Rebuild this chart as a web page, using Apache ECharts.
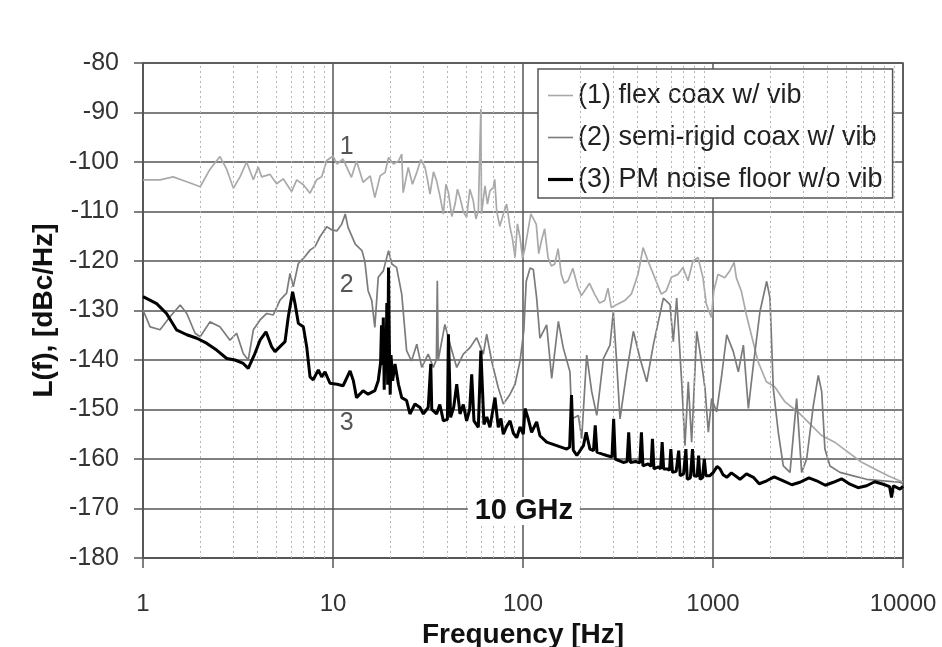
<!DOCTYPE html>
<html>
<head>
<meta charset="utf-8">
<script src="https://cdn.jsdelivr.net/npm/echarts@6/dist/echarts.min.js"></script>
<style>
  html, body { margin: 0; padding: 0; background: #ffffff; }
  #chart { width: 942px; height: 647px; }
</style>
</head>
<body>
<div id="chart"></div>
<script>
// Phase noise L(f) in dBc/Hz versus offset frequency in Hz.

// (1) flex coax with vibration
const flexFreq = [1.00, 1.23, 1.44, 1.70, 2.00, 2.25, 2.54, 2.76, 2.99, 3.24, 3.51, 3.81, 4.04, 4.21, 4.66, 5.05, 5.47, 6.06, 6.44, 6.98,
  7.57, 8.20, 8.72, 9.27, 10.0, 10.5, 11.3, 12.5, 13.3, 14.4, 15.7, 16.6, 17.7, 18.8, 19.6, 20.8, 22.1, 23.0, 23.4, 24.9,
  26.2, 27.6, 29.0, 30.5, 31.4, 32.4, 33.8, 35.1, 36.6, 38.1, 39.3, 40.5, 42.2, 43.9, 45.2, 46.6, 48.5, 50.5, 52.5, 54.7,
  56.5, 58.2, 59.5, 60.0, 60.5, 63.1, 65.0, 67.0, 69.8, 71.0, 72.7, 75.5, 78.8, 82.0, 85.5, 88.0, 90.8, 93.5, 96.5, 99.5,
  102.5, 110, 117.5, 121, 125, 130, 135.5, 141, 147, 153, 159, 165, 172.6, 183, 194.7, 203, 211, 224, 238, 253,
  269, 280, 291.6, 316, 343, 371.5, 403, 428.5, 455, 493, 534.6, 568, 603.6, 654.6, 695, 738.6, 784.6, 833.6, 885, 922,
  980, 1010, 1062, 1153, 1225, 1291, 1327, 1410, 1497, 1591, 1726, 1909, 2113, 2384, 2800, 3162, 3716, 4367, 5136, 6035,
  7098, 8341, 10000];
const flexLevel = [-103.6, -103.6, -103.0, -104.0, -105.0, -101.5, -98.9, -101.5, -105.3, -103.0, -100.0, -103.6, -101.0, -103.0, -102.5, -104.4, -103.4, -106.0, -103.6, -104.6,
  -106.3, -103.6, -103.0, -99.7, -98.8, -100.4, -99.4, -103.1, -99.8, -104.1, -102.8, -107.2, -102.8, -102.1, -99.1, -100.4, -99.8, -98.4, -106.2, -101.1,
  -104.5, -102.1, -99.5, -101.1, -103.5, -106.5, -102.0, -103.8, -107.0, -110.5, -104.5, -106.2, -111.0, -108.5, -105.5, -107.2, -110.0, -111.2, -105.5, -107.8,
  -111.5, -109.9, -110.2, -89.3, -110.5, -104.8, -108.5, -105.8, -105.2, -103.5, -109.9, -113.0, -110.5, -108.5, -113.2, -115.5, -119.3, -112.5, -115.3, -119.5,
  -117.3, -110.5, -112.6, -118.5, -115.9, -113.5, -119.3, -121.0, -120.6, -117.5, -122.7, -124.5, -124.0, -121.5, -125.4, -127.0, -126.0, -124.5, -126.7, -128.5,
  -128.0, -125.5, -129.4, -128.7, -128.0, -126.7, -122.7, -117.3, -120.0, -123.3, -126.7, -126.0, -123.3, -122.7, -121.3, -124.0, -120.0, -119.3, -123.3, -128.7,
  -131.4, -126.0, -122.7, -123.4, -122.0, -120.3, -123.4, -126.1, -130.8, -134.9, -140.3, -144.4, -145.4, -148.4, -150.5, -152.5, -155.2, -156.6, -158.6, -160.6,
  -162.0, -163.4, -164.7];

// (2) semi-rigid coax with vibration
const rigidFreq = [1.00, 1.09, 1.23, 1.39, 1.57, 1.70, 1.88, 2.00, 2.25, 2.54, 2.87, 3.11, 3.37, 3.58, 3.81, 4.13, 4.48, 4.85, 5.26, 5.70,
  5.94, 6.18, 6.57, 7.12, 7.57, 8.04, 8.54, 9.27, 9.84, 10.5, 11.1, 11.6, 12.0, 13.1, 14.2, 14.7, 15.3, 16.0, 16.6, 17.3,
  18.4, 19.6, 20.4, 21.6, 23.0, 24.4, 25.9, 27.6, 29.3, 31.7, 33.7, 35.0, 35.4, 35.8, 36.6, 38.8, 41.3, 44.8, 48.5, 52.6,
  57.0, 61.8, 64.4, 68.4, 74.1, 78.8, 85.5, 90.8, 96.5, 101, 104, 109, 113.3, 118, 122.8, 133.2, 141.6, 153.5, 163, 176.7,
  180.4, 195.5, 203.7, 216.4, 230, 244.5, 265, 287, 298.8, 311, 324, 351.5, 381, 413, 448, 485, 548, 594, 618, 644,
  684, 712, 741, 772, 821, 854, 908, 945, 984, 1045, 1111, 1181, 1279, 1359, 1445, 1535, 1631, 1767, 1917, 1995,
  2077, 2206, 2344, 2543, 2756, 2928, 3111, 3373, 3582, 3733, 3882, 4127, 4660, 5477, 6438, 7877, 9640, 10000];
const rigidLevel = [-129.9, -133.3, -133.9, -131.2, -128.9, -130.6, -134.6, -135.3, -132.3, -133.3, -136.0, -134.6, -138.7, -140.0, -133.9, -131.9, -130.6, -130.9, -127.9, -126.5,
  -122.5, -125.2, -120.5, -119.1, -117.8, -117.1, -115.1, -113.1, -113.7, -113.9, -112.6, -110.5, -113.2, -116.6, -117.9, -120.0, -126.0, -128.0, -133.4, -123.3,
  -122.0, -117.9, -120.6, -121.3, -126.7, -138.1, -140.2, -136.8, -141.5, -138.8, -141.5, -140.0, -124.0, -140.0, -140.2, -132.8, -136.8, -141.5, -138.8, -137.5,
  -135.5, -138.8, -134.8, -140.2, -145.6, -148.9, -146.9, -144.9, -140.2, -134.0, -124.1, -121.4, -121.7, -127.5, -135.6, -132.9, -143.7, -132.2, -137.6, -142.4,
  -151.9, -151.2, -155.9, -139.0, -146.4, -151.2, -139.7, -137.0, -130.2, -140.3, -151.9, -142.4, -134.2, -139.7, -144.4, -137.0, -127.5, -128.8, -136.3, -127.5,
  -144.4, -157.3, -144.4, -156.6, -134.2, -138.3, -145.8, -154.6, -147.8, -150.5, -143.1, -134.9, -138.3, -142.4, -137.0, -149.8, -141.0, -130.2, -124.1, -127.5,
  -145.8, -154.6, -161.4, -162.7, -147.8, -162.7, -160.0, -149.2, -143.1, -146.4, -158.0, -161.4, -162.7, -163.4, -164.1, -164.4, -164.7, -165.0];

// (3) PM noise floor without vibration
const floorFreq = [1.00, 1.18, 1.33, 1.50, 1.70, 1.92, 2.16, 2.44, 2.76, 3.05, 3.37, 3.58, 3.88, 4.13, 4.44, 4.75, 4.95, 5.26, 5.59, 5.82,
  6.13, 6.31, 6.57, 6.98, 7.27, 7.57, 7.87, 8.37, 8.72, 9.08, 9.64, 10.5, 11.3, 12.3, 12.8, 13.3, 14.4, 15.3, 16.6, 17.3,
  17.8, 18.0, 18.2, 18.4, 18.6, 18.8, 19.0, 19.2, 19.4, 19.6, 19.8, 20.0, 20.2, 20.6, 21.2, 22.1, 23.0, 24.4, 25.4, 27.0,
  28.7, 29.9, 31.7, 32.4, 32.7, 33.1, 33.7, 35.1, 36.5, 38.1, 40.0, 40.5, 41.6, 43.2, 44.8, 46.6, 48.5, 50.5, 52.4, 53.7,
  55.2, 58.2, 60.0, 62.3, 64.5, 67.0, 71.2, 74.1, 76.5, 78.8, 82.0, 85.5, 89.0, 92.7, 96.5, 100.4,
  102.5, 106.6, 111, 118, 122.8, 133.2, 150.5, 170, 176, 180, 184, 192, 208, 215, 225, 235, 240, 245, 262, 276,
  294, 300, 306, 337, 353, 360, 367, 392, 412, 420, 428, 455, 472, 480, 489, 515, 530, 540, 550, 575,
  590, 600, 612, 640, 653, 660, 672, 700, 712, 720, 732, 760, 772, 780, 795, 825, 835, 840, 855, 880,
  893, 900, 918, 960, 1004, 1050, 1089, 1130, 1181, 1250, 1387, 1500, 1631, 1750, 1917, 2100, 2344, 2600, 2870, 3200,
  3513, 3900, 4298, 4750, 5260, 5800, 6438, 7100, 7877, 8500, 8700, 8900, 9640, 10000];
const floorLevel = [-127.2, -128.6, -130.6, -133.9, -134.9, -135.6, -136.6, -138.0, -139.7, -140.0, -140.7, -141.7, -138.7, -136.0, -134.3, -137.3, -138.3, -137.3, -136.3, -131.2,
  -126.2, -128.6, -132.6, -133.3, -137.3, -143.4, -144.0, -142.0, -143.4, -142.4, -144.7, -144.9, -145.2, -142.2, -144.2, -147.6, -146.2, -146.9, -146.2, -144.2,
  -140.5, -133.0, -141.0, -131.4, -146.0, -136.0, -142.0, -128.5, -145.0, -121.3, -137.0, -147.0, -139.0, -144.2, -140.8, -144.9, -147.6, -148.2, -150.9, -148.9,
  -149.6, -150.9, -149.6, -150.0, -140.8, -150.0, -150.3, -150.9, -149.0, -152.3, -152.0, -134.8, -151.6, -149.5, -144.9, -150.9, -149.0, -152.3, -150.0, -142.9,
  -152.3, -153.6, -138.1, -153.0, -151.5, -153.6, -147.6, -153.6, -151.8, -155.0, -153.4, -152.3, -154.8, -155.7, -153.5, -155.0,
  -149.8, -151.9, -154.6, -152.5, -155.3, -156.6, -157.3, -158.0, -157.6, -147.1, -158.2, -159.3, -157.3, -154.6, -158.0, -158.3, -153.2, -158.6, -159.0, -159.3,
  -159.6, -151.9, -160.0, -160.7, -160.5, -154.6, -160.7, -160.5, -160.8, -154.6, -161.4, -161.0, -161.5, -155.9, -162.0, -161.6, -162.0, -156.6, -162.0, -162.0,
  -162.3, -158.0, -162.7, -162.5, -162.8, -158.3, -163.4, -163.0, -163.2, -158.0, -164.1, -163.8, -163.8, -158.0, -163.4, -163.5, -163.6, -159.3, -164.1, -163.8,
  -164.0, -160.0, -163.4, -163.4, -162.7, -161.5, -162.0, -163.2, -163.7, -162.8, -164.1, -163.0, -163.7, -165.0, -164.4, -163.6, -164.4, -165.2, -164.7, -163.8,
  -164.4, -165.3, -164.7, -164.0, -165.1, -165.8, -165.4, -164.6, -165.1, -165.6, -167.8, -165.4, -166.1, -165.5];

// Dotted minor grid lines (2..9 within each decade)
const minorGridFreqs = [2, 3, 4, 5, 6, 7, 8, 9, 20, 30, 40, 50, 60, 70, 80, 90,
  200, 300, 400, 500, 600, 700, 800, 900, 2000, 3000, 4000, 5000, 6000, 7000, 8000, 9000];

const seriesNames = ['(1) flex coax w/ vib', '(2) semi-rigid coax w/ vib', '(3) PM noise floor w/o vib'];

const zip = (f, v) => f.map((x, i) => [x, v[i]]);

const fontFamily = "'Liberation Sans', Arial, sans-serif";
const gridColor = '#555555';

const chart = echarts.init(document.getElementById('chart'), null, { renderer: 'canvas' });

chart.setOption({
  backgroundColor: '#ffffff',
  animation: false,
  textStyle: { fontFamily: fontFamily },
  grid: {
    left: 143, right: 39, top: 63, bottom: 89,
    outerBoundsMode: 'none', containLabel: false,
    show: true, borderColor: gridColor, borderWidth: 1.5, backgroundColor: 'transparent'
  },
  legend: {
    data: [
      { name: seriesNames[0], icon: 'path://M0,0H25V1.6H0Z' },
      { name: seriesNames[1], icon: 'path://M0,0H25V1.6H0Z' },
      { name: seriesNames[2], icon: 'path://M0,0H25V3.2H0Z' }
    ],
    orient: 'vertical',
    left: 538, top: 69,
    padding: [13, 10, 5, 10],
    itemGap: 15,
    itemWidth: 25, itemHeight: 14,
    backgroundColor: '#ffffff',
    borderColor: gridColor, borderWidth: 1.5, borderRadius: 0,
    textStyle: { fontSize: 27, color: '#222222', fontFamily: fontFamily }
  },
  xAxis: {
    type: 'log', logBase: 10, min: 1, max: 10000,
    name: 'Frequency [Hz]', nameLocation: 'middle', nameGap: 60,
    nameTextStyle: { fontWeight: 'bold', fontSize: 28, color: '#111111', fontFamily: fontFamily },
    axisLine: { show: true, onZero: false, lineStyle: { color: gridColor, width: 1.5 } },
    axisTick: { show: true, length: 10, lineStyle: { color: gridColor, width: 1.5 } },
    axisLabel: { fontSize: 24, color: '#333333', margin: 34, formatter: v => String(Math.round(v)) },
    splitLine: { show: true, lineStyle: { color: gridColor, width: 1.5 } }
  },
  yAxis: {
    type: 'value', min: -180, max: -80, interval: 10,
    name: 'L(f), [dBc/Hz]', nameLocation: 'middle', nameGap: 75, nameRotate: 90,
    nameTextStyle: { fontWeight: 'bold', fontSize: 28, color: '#111111', fontFamily: fontFamily },
    axisLine: { show: true, onZero: false, lineStyle: { color: gridColor, width: 1.5 } },
    axisTick: { show: true, length: 9, lineStyle: { color: gridColor, width: 1.5 } },
    axisLabel: { fontSize: 25, color: '#333333', margin: 24 },
    splitLine: { show: true, lineStyle: { color: gridColor, width: 1.5 } }
  },
  series: [
    {
      name: 'minor grid', type: 'line', data: [], z: 1, silent: true,
      markLine: {
        silent: true, symbol: 'none', animation: false,
        label: { show: false },
        lineStyle: { color: '#b4b4b4', type: [2, 3], width: 1 },
        data: minorGridFreqs.map(f => ({ xAxis: f }))
      }
    },
    {
      name: seriesNames[0], type: 'line', symbol: 'none', z: 3,
      lineStyle: { color: '#a9a9a9', width: 1.7 }, itemStyle: { color: '#a9a9a9' },
      data: zip(flexFreq, flexLevel)
    },
    {
      name: seriesNames[1], type: 'line', symbol: 'none', z: 4,
      lineStyle: { color: '#7b7b7b', width: 1.7 }, itemStyle: { color: '#7b7b7b' },
      data: zip(rigidFreq, rigidLevel)
    },
    {
      name: seriesNames[2], type: 'line', symbol: 'none', z: 5,
      lineStyle: { color: '#000000', width: 3 }, itemStyle: { color: '#000000' },
      data: zip(floorFreq, floorLevel)
    },
    {
      name: 'notes', type: 'line', data: [], z: 6, silent: true,
      markPoint: {
        silent: true, animation: false,
        data: [
          { coord: [11.8, -97.0], symbol: 'rect', symbolSize: 0, label: { show: true, formatter: '1', fontSize: 25, color: '#555555', fontFamily: fontFamily } },
          { coord: [11.8, -124.8], symbol: 'rect', symbolSize: 0, label: { show: true, formatter: '2', fontSize: 25, color: '#555555', fontFamily: fontFamily } },
          { coord: [11.8, -152.7], symbol: 'rect', symbolSize: 0, label: { show: true, formatter: '3', fontSize: 25, color: '#555555', fontFamily: fontFamily } },
          { coord: [101, -170.5], symbol: 'rect', symbolSize: [112, 28], itemStyle: { color: '#ffffff' },
            label: { show: true, position: 'inside', formatter: '10 GHz', fontSize: 29, fontWeight: 'bold', color: '#111111', fontFamily: fontFamily } }
        ]
      }
    }
  ]
});
</script>
</body>
</html>
